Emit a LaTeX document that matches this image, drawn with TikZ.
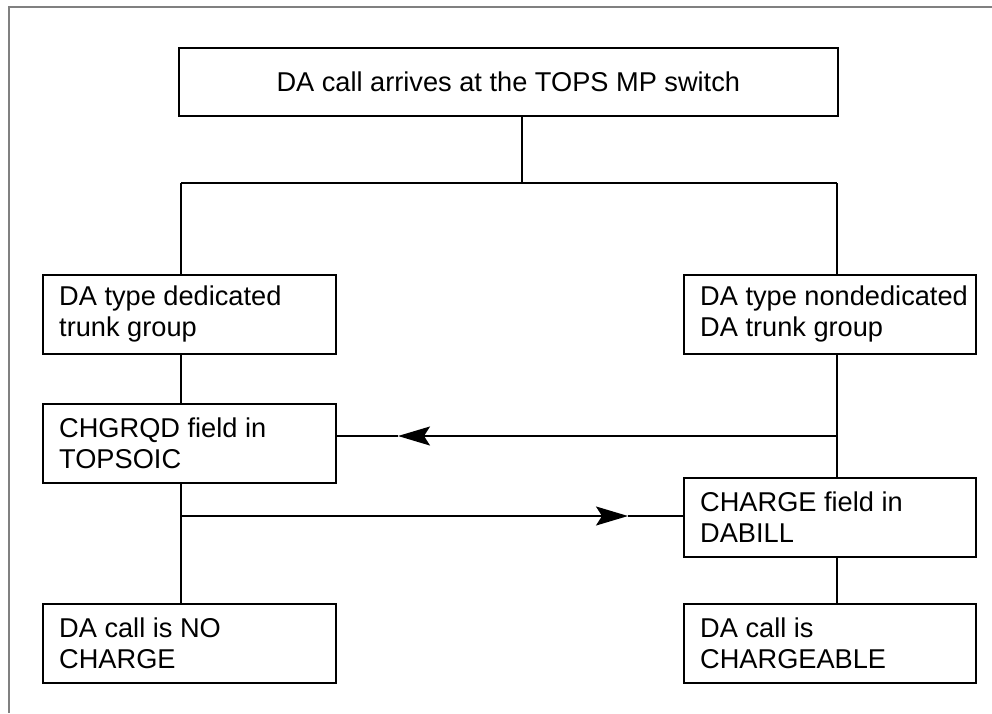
\documentclass[tikz,border=0pt]{standalone}
\usepackage{fontspec}
\setmainfont{Liberation Sans}
\usetikzlibrary{arrows.meta}
\begin{document}
\begin{tikzpicture}[x=1pt,y=-1pt,
  box/.style={draw=black, line width=1.6pt, rectangle, anchor=north west,
    inner sep=0pt, minimum height=79pt},
  txt/.style={anchor=west, inner sep=0pt, align=left,
    font=\fontsize{27.2}{31}\selectfont},
  wire/.style={draw=black, line width=1.6pt},
  arr/.style={wire, -{Stealth[length=32pt,width=19pt,inset=6pt]}},
  framel/.style={draw=gray, line width=1.4pt}]
\useasboundingbox (0,0) rectangle (992,713);
% frame
\coordinate (fa) at (992,7);
\coordinate (fb) at (9,7);
\coordinate (fc) at (9,713);
\draw[framel] (fa) -- (fb) -- (fc);
% boxes
\node[box, minimum width=659pt, minimum height=68pt] (top) at (178,47) {};
\node[box, minimum width=293pt] (ded) at (42,274) {};
\node[box, minimum width=292pt] (nded) at (683,274) {};
\node[box, minimum width=293pt] (chgrqd) at (42,403) {};
\node[box, minimum width=292pt] (charge) at (683,477) {};
\node[box, minimum width=293pt] (noch) at (42,603) {};
\node[box, minimum width=292pt] (chbl) at (683,603) {};
% texts
\node[txt, anchor=center] (toptxt) at (top.center) {DA call arrives at the TOPS MP switch};
\node[txt] (dedtxt) at ([xshift=17pt]ded.west) {DA type dedicated\\trunk group};
\node[txt] (ndedtxt) at ([xshift=17pt]nded.west) {DA type nondedicated\\DA trunk group};
\node[txt] (chgrqdtxt) at ([xshift=17pt]chgrqd.west) {CHGRQD field in\\TOPSOIC};
\node[txt] (chargetxt) at ([xshift=17pt]charge.west) {CHARGE field in\\DABILL};
\node[txt] (nochtxt) at ([xshift=17pt]noch.west) {DA call is NO\\CHARGE};
\node[txt] (chbltxt) at ([xshift=17pt]chbl.west) {DA call is\\CHARGEABLE};
% junction coordinates
\coordinate (tb) at (522,115);
\coordinate (tj) at (522,183);
\coordinate (lj) at (181,183);
\coordinate (rj) at (837,183);
\coordinate (j1) at (837,436);
\coordinate (t1) at (398,436);
\coordinate (j2) at (181,516);
\coordinate (t2) at (628,516);
% connectors
\draw[wire] (tb) -- (tj);
\draw[wire] (lj) -- (rj);
\draw[wire] (lj) -- (lj |- ded.north);
\draw[wire] (rj) -- (rj |- nded.north);
\draw[wire] (lj |- ded.south) -- (lj |- chgrqd.north);
\draw[wire] (lj |- chgrqd.south) -- (lj |- noch.north);
\draw[wire] (rj |- nded.south) -- (rj |- charge.north);
\draw[wire] (rj |- charge.south) -- (rj |- chbl.north);
\draw[arr] (j1) -- (t1);
\draw[wire] (t1) -- (chgrqd.east |- t1);
\draw[arr] (j2) -- (t2);
\draw[wire] (t2) -- (charge.west |- t2);
\end{tikzpicture}
\end{document}
